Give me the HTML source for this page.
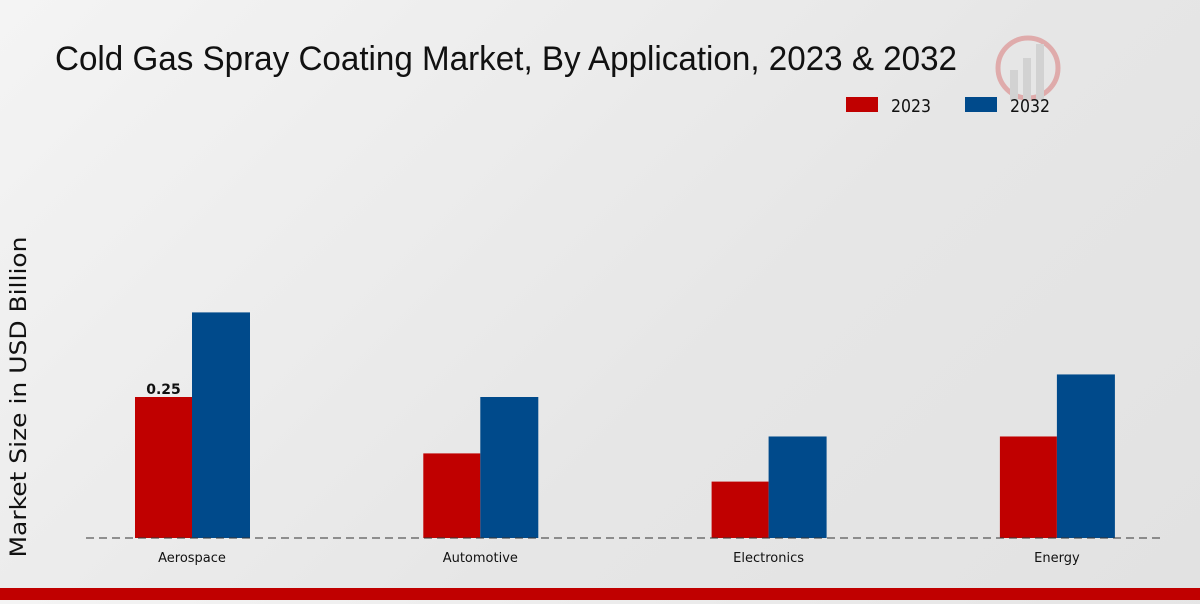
<!DOCTYPE html>
<html><head><meta charset="utf-8"><style>
body{margin:0;width:1200px;height:600px;overflow:hidden;background:linear-gradient(135deg,#f4f4f4 0%,#e6e6e6 60%,#e2e2e2 100%);font-family:"DejaVu Sans","Liberation Sans",sans-serif}
</style></head><body>
<svg width="1200" height="600">
<text x="55" y="70" font-size="34" textLength="902" lengthAdjust="spacingAndGlyphs" fill="#111" font-family="Liberation Sans, sans-serif">Cold Gas Spray Coating Market, By Application, 2023 &amp; 2032</text>
<g opacity="0.25">
<circle cx="1028" cy="68" r="30" fill="none" stroke="#c00" stroke-width="5"/>
<rect x="1010" y="70" width="8" height="30" fill="#999"/><rect x="1023" y="58" width="8" height="42" fill="#999"/><rect x="1036" y="44" width="8" height="56" fill="#999"/>
</g>
<g>
<rect x="846" y="97" width="32" height="15" fill="#c00000"/>
<text x="891" y="112" font-size="18" textLength="40" lengthAdjust="spacingAndGlyphs" fill="#111">2023</text>
<rect x="965" y="97" width="32" height="15" fill="#004a8b"/>
<text x="1010" y="112" font-size="18" textLength="40" lengthAdjust="spacingAndGlyphs" fill="#111">2032</text>
</g>
<text transform="translate(26,397) rotate(-90)" text-anchor="middle" font-size="22" textLength="321" lengthAdjust="spacingAndGlyphs" fill="#111">Market Size in USD Billion</text>
<g id="plot"></g>
<line x1="86" y1="538" x2="1165" y2="538" stroke="#333" stroke-dasharray="8,5"/>
<rect x="0" y="588" width="1200" height="12" fill="#c00000"/>
</svg>
<script>
const categories=["Aerospace","Automotive","Electronics","Energy"];
const values2023=[0.25,0.15,0.10,0.18];
const values2032=[0.40,0.25,0.18,0.29];
const showLabel2023=["0.25",null,null,null];
const ns="http://www.w3.org/2000/svg";
const g=document.getElementById("plot");
const base=538,scale=564,bw=57;
const xc=i=>192+i*288.3;
const y=v=>base-v*scale;
function mk(t,a){const e=document.createElementNS(ns,t);for(const k in a)e.setAttribute(k,a[k]);g.appendChild(e);return e;}
categories.forEach((c,i)=>{
 const r1=mk("rect",{x:xc(i)-bw,y:y(values2023[i]),width:bw,height:base-y(values2023[i]),fill:"#c00000"});
 
 
 const r2=mk("rect",{x:xc(i),y:y(values2032[i]),width:bw+1,height:base-y(values2032[i]),fill:"#004a8b"});
 
 
 const t=mk("text",{x:xc(i),y:562,"text-anchor":"middle","font-size":"13",fill:"#111"});
 t.textContent=c;
 
 
 if(showLabel2023[i]){
  const l=mk("text",{x:xc(i)-bw/2,y:y(values2023[i])-3,"text-anchor":"middle","font-size":"14","font-weight":"bold",fill:"#111"});
  l.textContent=showLabel2023[i];
  
  
 }
});
</script>
</body></html>
